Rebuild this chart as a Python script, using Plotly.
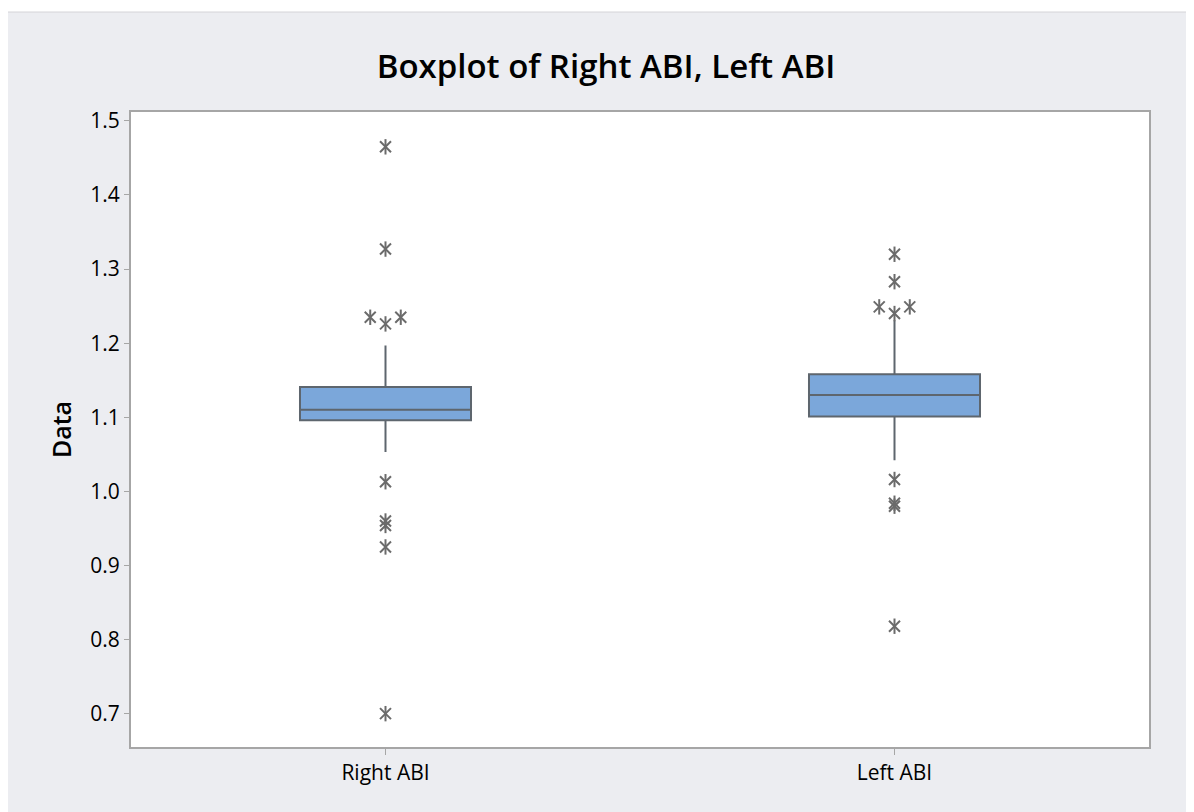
import plotly.graph_objects as go
from collections import Counter

# ---- data ----
categories = ["Right ABI", "Left ABI"]
q1 = [1.096, 1.101]
median = [1.110, 1.130]
q3 = [1.141, 1.158]
lower_whisker = [1.053, 1.042]
upper_whisker = [1.197, 1.231]
outliers_right = [1.465, 1.327, 1.235, 1.235, 1.226, 1.013, 0.960, 0.954, 0.925, 0.700]
outliers_left = [1.320, 1.283, 1.249, 1.249, 1.240, 1.016, 0.984, 0.980, 0.818]
y_ticks = [0.7, 0.8, 0.9, 1.0, 1.1, 1.2, 1.3, 1.4, 1.5]

BOX_FILL = "#7BA7DA"
LINE_GREY = "#5E666E"
MARK_GREY = "#6B6B6B"
PANEL = "#ECEDF1"

def tie_offsets(values, spacing=0.03):
    """Spread tied values side by side (Minitab style)."""
    counts = Counter(values)
    seen = Counter()
    offs = []
    for v in values:
        n = counts[v]
        i = seen[v]
        seen[v] += 1
        offs.append((i - (n - 1) / 2) * 2 * spacing)
    return offs

fig = go.Figure()

for i, name in enumerate(categories):
    fig.add_trace(go.Box(
        x=[i], q1=[q1[i]], median=[median[i]], q3=[q3[i]],
        lowerfence=[lower_whisker[i]], upperfence=[upper_whisker[i]],
        width=0.336, whiskerwidth=0,
        fillcolor=BOX_FILL, line=dict(color=LINE_GREY, width=2),
        boxpoints=False, showlegend=False, name=name, hoverinfo="skip",
    ))

for i, outs in enumerate([outliers_right, outliers_left]):
    offs = tie_offsets(outs)
    xs = [i + o for o in offs]
    for sym in ["x-thin-open", "line-ns-open"]:
        fig.add_trace(go.Scatter(
            x=xs, y=outs, mode="markers",
            marker=dict(symbol=sym, size=11, color=MARK_GREY,
                        line=dict(color=MARK_GREY, width=2)),
            showlegend=False, hoverinfo="y",
        ))

# figure is placed 8px in from the window edge by the page margin
W, H = 1186, 804
L, T = 123, 104
R = W - 1141
B = H - 739
pw, ph = W - L - R, H - T - B

# grey outer panel and white plotting area
fig.add_shape(type="rect", xref="paper", yref="paper", layer="below",
              x0=-L / pw - 0.01, x1=(W + 20 - L) / pw,
              y0=-(B + 20) / ph, y1=(H - B - 4) / ph,
              fillcolor=PANEL, line=dict(color="#D4D4D8", width=1))
fig.add_shape(type="rect", xref="paper", yref="paper", layer="below",
              x0=0, x1=1, y0=0, y1=1, fillcolor="white",
              line=dict(width=0))

fig.update_layout(
    width=W, height=H,
    margin=dict(l=L, r=R, t=T, b=B),
    paper_bgcolor="white", plot_bgcolor="rgba(0,0,0,0)",
    font=dict(family="Open Sans", color="#111111"),
    title=dict(text="Boxplot of Right ABI, Left ABI", x=598 / W, xanchor="center",
               xref="container", yref="container", y=1 - 58 / H, yanchor="middle",
               font=dict(size=33, family="Open Sans", weight=600, color="#000000")),
)
fig.update_xaxes(
    range=[-0.5, 1.5], tickvals=[0, 1], ticktext=categories,
    showgrid=False, zeroline=False, showline=True, mirror=True,
    linecolor="#A6A6A6", linewidth=2, ticks="outside", ticklen=6,
    tickcolor="#A6A6A6", tickfont=dict(size=21, color="#000000", weight=500),
)
fig.update_yaxes(
    range=[0.655, 1.512], tickvals=y_ticks, ticktext=[f"{v:.1f}" for v in y_ticks],
    showgrid=False, zeroline=False, showline=True, mirror=True,
    linecolor="#A6A6A6", linewidth=2, ticks="outside", ticklen=5,
    tickcolor="#A6A6A6", tickfont=dict(size=21, color="#000000", weight=500),
    title=dict(text="Data", standoff=12, font=dict(size=25, weight=600, color="#000000")),
)

fig.write_html("out.html")
